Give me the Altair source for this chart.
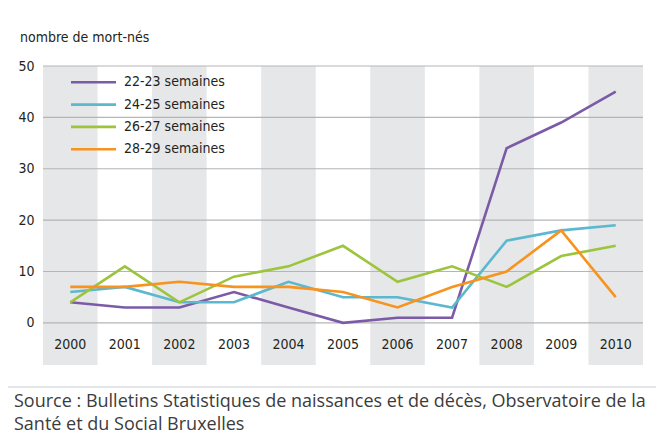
import altair as alt
import pandas as pd

years = ["2000", "2001", "2002", "2003", "2004", "2005", "2006", "2007", "2008", "2009", "2010"]
series_names = ["22-23 semaines", "24-25 semaines", "26-27 semaines", "28-29 semaines"]
s22_23 = [4, 3, 3, 6, 3, 0, 1, 1, 34, 39, 45]
s24_25 = [6, 7, 4, 4, 8, 5, 5, 3, 16, 18, 19]
s26_27 = [4, 11, 4, 9, 11, 15, 8, 11, 7, 13, 15]
s28_29 = [7, 7, 8, 7, 7, 6, 3, 7, 10, 18, 5]
colors = ["#7B5BA7", "#5CB8CF", "#9CC43D", "#F7931E"]
y_ticks = [0, 10, 20, 30, 40, 50]
y_title = "nombre de mort-nés"
source_lines = [
    "Source : Bulletins Statistiques de naissances et de décès, Observatoire de la",
    "Santé et du Social Bruxelles",
]

COND = "DejaVu Sans Condensed, Liberation Sans Narrow, sans-serif"
W, H = 600, 299
YMIN, YMAX = -8.2, 50

rows = []
for name, vals in zip(series_names, [s22_23, s24_25, s26_27, s28_29]):
    for yr, v in zip(years, vals):
        rows.append({"year": yr, "series": name, "value": v})
df = pd.DataFrame(rows)
ydf = pd.DataFrame({"year": years, "idx": list(range(len(years)))})
gdf = pd.DataFrame({"v": y_ticks})
ldf = pd.DataFrame({"series": series_names, "i": list(range(len(series_names)))})
sdf = pd.DataFrame({"t": source_lines, "i": list(range(len(source_lines)))})

xs = alt.Scale(domain=years, paddingInner=0, paddingOuter=0)
ys = alt.Scale(domain=[YMIN, YMAX], nice=False, zero=False)
cs = alt.Scale(domain=series_names, range=colors)

bands = alt.Chart(ydf).transform_filter("datum.idx % 2 == 0").transform_calculate(
    y0=str(YMIN), y1=str(YMAX)).mark_rect(color="#E6E7E8").encode(
    x=alt.X("year:N", scale=xs, axis=None),
    y=alt.Y("y0:Q", scale=ys),
    y2="y1:Q",
)

grid = alt.Chart(gdf).mark_rule(color="#B5B5B5", strokeWidth=1.2).encode(
    y=alt.Y("v:Q", scale=ys, axis=alt.Axis(
        values=y_ticks, domain=False, ticks=False, grid=False, title=None,
        labelFont=COND, labelFontSize=14, labelColor="#231F20", labelPadding=9)),
    x=alt.value(0), x2=alt.value(W),
)

xlabels = alt.Chart(ydf).mark_text(font=COND, fontSize=14, color="#231F20", baseline="middle").encode(
    x=alt.X("year:N", scale=xs, axis=None),
    y=alt.datum(-4.3, scale=ys),
    text="year:N",
)

lines = alt.Chart(df).mark_line(strokeWidth=2.6).encode(
    x=alt.X("year:N", scale=xs, axis=None),
    y=alt.Y("value:Q", scale=ys),
    color=alt.Color("series:N", scale=cs, legend=None),
)

leg_lines = alt.Chart(ldf).transform_calculate(
    ly="16.3 + 22.3 * datum.i").mark_rule(strokeWidth=2.6).encode(
    x=alt.value(28), x2=alt.value(73),
    y=alt.Y("ly:Q", scale=None),
    color=alt.Color("series:N", scale=cs, legend=None),
)
leg_text = alt.Chart(ldf).transform_calculate(
    ly="16.3 + 22.3 * datum.i").mark_text(
    font=COND, fontSize=14, color="#231F20", align="left", baseline="middle").encode(
    x=alt.value(81),
    y=alt.Y("ly:Q", scale=None),
    text="series:N",
)

title = alt.Chart(pd.DataFrame({"t": [y_title]})).mark_text(
    font=COND, fontSize=14, color="#231F20", align="left", baseline="middle").encode(
    x=alt.value(-23), y=alt.value(-28), text="t:N")

sep = alt.Chart(pd.DataFrame({"a": [0]})).mark_rule(color="#C9CED6", strokeWidth=1.2).encode(
    x=alt.value(-35), x2=alt.value(613), y=alt.value(321))

src = alt.Chart(sdf).transform_calculate(
    ly="341 + 23 * datum.i").mark_text(
    font="Open Sans", fontSize=18, color="#3C3C3C", align="left", baseline="alphabetic").encode(
    x=alt.value(-29), y=alt.Y("ly:Q", scale=None), text="t:N")

chart = alt.layer(bands, grid, xlabels, lines, leg_lines, leg_text, title, sep, src).properties(
    width=W, height=H,
    autosize=alt.AutoSizeParams(type="none"),
    padding={"left": 35, "top": 58, "right": 13, "bottom": 72},
).configure_view(stroke=None)

chart.save("out.html", embed_options={"renderer": "svg", "actions": False})
